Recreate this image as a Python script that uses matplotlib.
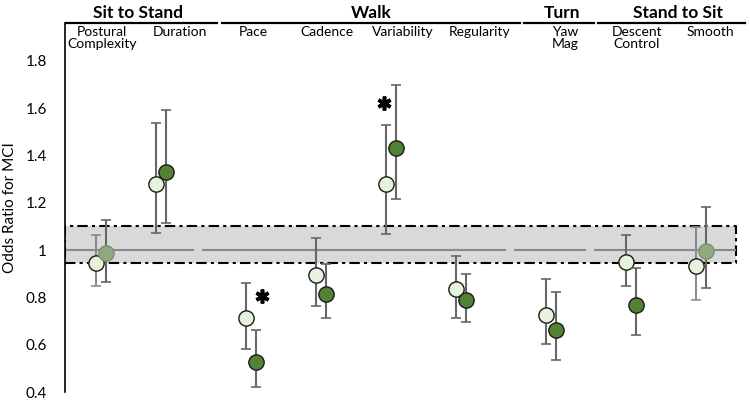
import matplotlib
matplotlib.use("Agg")
import matplotlib.pyplot as plt
import numpy as np

plt.rcParams['font.family'] = ['Lato', 'DejaVu Sans']

# ---------------- data ----------------
categories = ["Postural\nComplexity", "Duration", "Pace", "Cadence", "Variability",
              "Regularity", "Yaw\nMag", "Descent\nControl", "Smooth"]
groups = ["Sit to Stand", "Walk", "Turn", "Stand to Sit"]

light_or = [0.945, 1.279, 0.714, 0.896, 1.278, 0.835, 0.725, 0.950, 0.932]
light_lo = [0.848, 1.072, 0.581, 0.764, 1.070, 0.712, 0.602, 0.848, 0.788]
light_hi = [1.063, 1.539, 0.862, 1.052, 1.529, 0.975, 0.877, 1.063, 1.099]

dark_or = [0.987, 1.330, 0.526, 0.814, 1.433, 0.790, 0.661, 0.767, 0.996]
dark_lo = [0.865, 1.114, 0.420, 0.712, 1.214, 0.695, 0.535, 0.640, 0.840]
dark_hi = [1.127, 1.592, 0.662, 0.941, 1.700, 0.900, 0.822, 0.925, 1.183]
dark_significant = [False, True, True, True, True, True, True, True, False]

star_cat = [2, 4]
star_y = [0.805, 1.62]

band_lo, band_hi = 0.945, 1.103
yticks = [0.4, 0.6, 0.8, 1.0, 1.2, 1.4, 1.6, 1.8]
ytick_labels = ["0.4", "0.6", "0.8", "1", "1.2", "1.4", "1.6", "1.8"]

# ---------------- layout ----------------
x_pos = [10.1, 16.1, 25.1, 32.1, 39.1, 46.1, 55.1, 63.1, 70.1]
label_x = [10.2, 18.0, 25.3, 32.7, 40.3, 48.0, 56.5, 63.7, 71.0]
off = 0.5
group_spans = [(6.6, 21.7), (22.2, 52.0), (52.4, 59.4), (59.8, 74.5)]
group_title_x = [13.8, 37.1, 56.2, 67.8]
ref_segments = [(6.6, 19.3), (20.3, 50.5), (51.5, 58.5), (59.5, 73.5)]
band_x = (6.5, 73.6)

c_light = "#e6f2dc"
c_dark = "#548235"
c_muted = "#8ea97f"
c_err = "#666666"
c_err_light = "#8c8c8c"

fig = plt.figure(figsize=(7.5, 4.01), dpi=100)
ax = fig.add_axes([65/750, 9/401, 680/750, 369/401])
ax.set_xlim(6.5, 74.5)
ax.set_ylim(0.4, 1.96)

# band
ax.fill_between(band_x, band_lo, band_hi, color="#d9d9d9", zorder=0, lw=0)
ax.plot([band_x[0], band_x[1], band_x[1], band_x[0], band_x[0]],
        [band_lo, band_lo, band_hi, band_hi, band_lo],
        color="black", lw=1.5, ls=(0, (5, 2, 1.5, 2)), zorder=1)

# reference line
for a, b in ref_segments:
    ax.plot([a, b], [1, 1], color="#8a8a8a", lw=1.5, zorder=1)

xl = np.array(x_pos) - off
xd = np.array(x_pos) + off

for i in range(len(categories)):
    ecol = c_err if dark_significant[i] else c_err_light
    ax.errorbar(xl[i], light_or[i],
                yerr=[[light_or[i] - light_lo[i]], [light_hi[i] - light_or[i]]],
                fmt='none', ecolor=ecol, elinewidth=1.5, capsize=3.5, capthick=1.2, zorder=2)
    ax.plot(xl[i], light_or[i], 'o', ms=11, mfc=c_light, mec="#1a1a1a", mew=1.0, zorder=3)
for i in range(len(categories)):
    fc = c_dark if dark_significant[i] else c_muted
    ax.errorbar(xd[i], dark_or[i],
                yerr=[[dark_or[i] - dark_lo[i]], [dark_hi[i] - dark_or[i]]],
                fmt='none', ecolor=c_err, elinewidth=1.5, capsize=3.5, capthick=1.2, zorder=4)
    mec = "#1a1a1a" if dark_significant[i] else "#7a9070"
    ax.plot(xd[i], dark_or[i], 'o', ms=11, mfc=fc, mec=mec, mew=1.0, zorder=5)

# significance asterisks
for ci, yv in zip(star_cat, star_y):
    sx = x_pos[ci] + (1.1 if ci == 2 else -0.7)
    ax.plot(sx, yv, marker=(6, 2, 0), ms=10, mew=2.6, color="black", zorder=6)

# axes styling
for s in ["top", "right", "bottom"]:
    ax.spines[s].set_visible(False)
ax.spines["left"].set_linewidth(1.2)
ax.set_xticks([])
ax.set_yticks(yticks)
ax.set_yticklabels(ytick_labels, fontsize=11)
ax.tick_params(axis='y', length=0, pad=13)
ax.set_ylabel("Odds Ratio for MCI", fontsize=11, labelpad=6)

# group lines and titles
ytop = 1.96
for (a, b), tx, g in zip(group_spans, group_title_x, groups):
    ax.plot([a, b], [ytop, ytop], color="black", lw=1.6, clip_on=False, zorder=7)
    ax.annotate(g, xy=(tx, 1), xycoords=('data', 'axes fraction'),
                xytext=(0, 7.5), textcoords='offset points', ha='center', va='center',
                fontsize=12.5, fontweight='bold', annotation_clip=False)

for lx, lab in zip(label_x, categories):
    ax.annotate(lab, xy=(lx, 1), xycoords=('data', 'axes fraction'),
                xytext=(0, -2.5), textcoords='offset points', ha='center', va='top',
                fontsize=10, linespacing=1.0, annotation_clip=False)

fig.savefig("out.png", dpi=100)
